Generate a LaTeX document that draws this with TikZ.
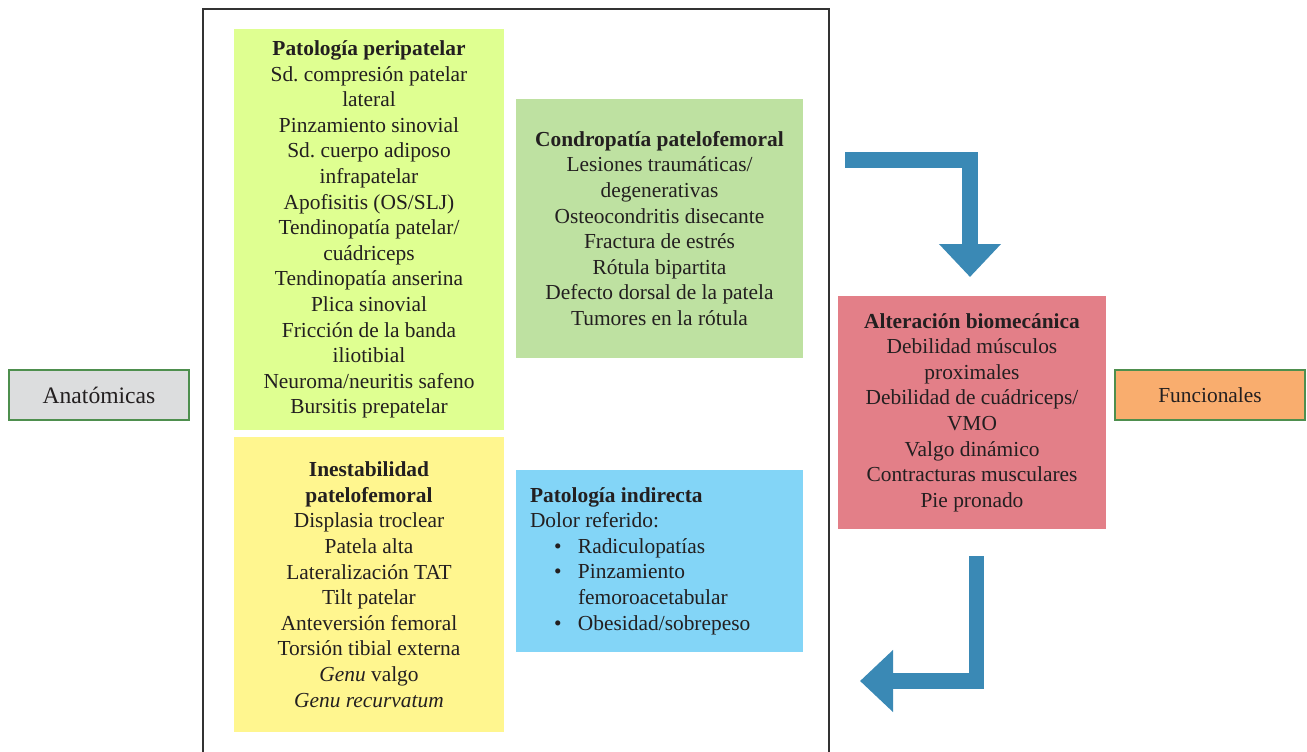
\documentclass[tikz,border=0pt]{standalone}
\usepackage{fontspec}
\setmainfont{Liberation Serif}
\usetikzlibrary{positioning, arrows.meta}
\definecolor{inktext}{HTML}{231F20}
\definecolor{limefill}{HTML}{DFFF91}
\definecolor{yellowfill}{HTML}{FFF68F}
\definecolor{greenfill}{HTML}{BEE1A1}
\definecolor{bluefill}{HTML}{83D5F7}
\definecolor{redfill}{HTML}{E37F88}
\definecolor{grayfill}{HTML}{DCDDDE}
\definecolor{orangefill}{HTML}{F9AD6E}
\definecolor{sidegreen}{HTML}{4E8F4E}
\definecolor{arrowblue}{HTML}{3A89B5}
\tikzset{
    x=1pt, y=-1pt, % one unit is one pixel of the layout, y runs downwards
    every node/.style={font=\fontsize{21.4}{25.6}\selectfont\frenchspacing, text=inktext},
    groupbox/.style={inner sep=0pt, align=flush center}, % coloured boxes with the lists
    sidebox/.style={draw=sidegreen, line width=2pt, inner sep=0pt}, % the two labels at the sides
    bigarrow/.style={draw=arrowblue, line width=15.5pt, -{Triangle[length=33pt,width=60pt]}},
}
\begin{document}
\begin{tikzpicture}
    \useasboundingbox (0,0) rectangle (1307,752);

    % frame round the anatomical group, open at the bottom
    \draw[line width=2pt, draw=black!80] (203,770) |- (829,9) -- (829,770);

    \node[groupbox, fill=limefill, text width=270pt, minimum height=401pt] (peri) at (369,229.5)
        {\textbf{Patología peripatelar}\\Sd. compresión patelar\\lateral\\Pinzamiento sinovial\\
         Sd. cuerpo adiposo\\infrapatelar\\Apofisitis (OS/SLJ)\\Tendinopatía patelar/\\cuádriceps\\
         Tendinopatía anserina\\Plica sinovial\\Fricción de la banda\\iliotibial\\
         Neuroma/neuritis safeno\\Bursitis prepatelar};
    \node[groupbox, fill=yellowfill, text width=270pt, minimum height=295pt] (inest) at (369,584.5)
        {\textbf{Inestabilidad}\\\textbf{patelofemoral}\\Displasia troclear\\Patela alta\\
         Lateralización TAT\\Tilt patelar\\Anteversión femoral\\Torsión tibial externa\\
         \textit{Genu} valgo\\\textit{Genu recurvatum}};
    \node[groupbox, fill=greenfill, text width=287pt, minimum height=259pt] (condro) at (659.5,228.5)
        {\textbf{Condropatía patelofemoral}\\Lesiones traumáticas/\\degenerativas\\
         Osteocondritis disecante\\Fractura de estrés\\Rótula bipartita\\
         Defecto dorsal de la patela\\Tumores en la rótula};
    \node[groupbox, fill=bluefill, align=flush left, inner xsep=14pt, text width=259pt, minimum height=182pt] (indir) at (659.5,561)
        {\textbf{Patología indirecta}\\Dolor referido:\\
         \hspace*{24pt}\makebox[24pt][l]{•}Radiculopatías\\
         \hspace*{24pt}\makebox[24pt][l]{•}Pinzamiento\\
         \hspace*{48pt}femoroacetabular\\
         \hspace*{24pt}\makebox[24pt][l]{•}Obesidad/sobrepeso};
    \node[groupbox, fill=redfill, text width=268pt, minimum height=233pt] (alter) at (972,412.5)
        {\textbf{Alteración biomecánica}\\Debilidad músculos\\proximales\\
         Debilidad de cuádriceps/\\VMO\\Valgo dinámico\\Contracturas musculares\\Pie pronado};

    \node[sidebox, fill=grayfill, minimum width=180pt, minimum height=50pt,
          font=\fontsize{23.6}{28}\selectfont] (anat) at (99,395) {Anatómicas};
    \node[sidebox, fill=orangefill, minimum width=190pt, minimum height=50pt] (func) at (1210,395) {Funcionales};

    % the two bent arrows round the biomechanical box
    \coordinate (inA) at (845,160);
    \coordinate (bendA) at (970,160);
    \coordinate (tipA) at (970,277);
    \coordinate (inB) at (976.5,556);
    \coordinate (bendB) at (976.5,681);
    \coordinate (tipB) at (860,681);
    \draw[bigarrow] (inA) -- (bendA) -- (tipA);
    \draw[bigarrow] (inB) -- (bendB) -- (tipB);
\end{tikzpicture}
\end{document}
